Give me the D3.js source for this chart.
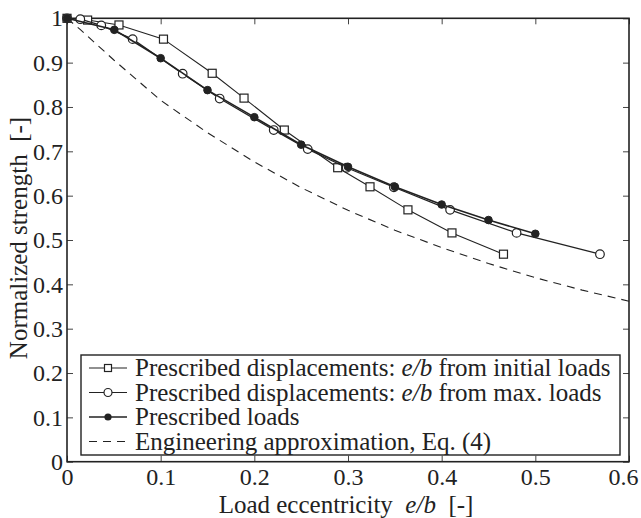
<!DOCTYPE html>
<html>
<head>
<meta charset="utf-8">
<script src="https://cdn.jsdelivr.net/npm/d3@7"></script>
<style>
  html, body { margin: 0; padding: 0; background: #fff; }
  svg { display: block; }
  text { font-family: "Liberation Serif", "Times New Roman", serif; fill: #222; }
</style>
</head>
<body>
<svg id="chart" width="641" height="518"></svg>
<script>
// ---- data ----
const initX = [0, 0.022, 0.0555, 0.103, 0.155, 0.189, 0.232, 0.289, 0.3235, 0.364, 0.411, 0.466];
const initY = [1.0, 0.996, 0.985, 0.953, 0.876, 0.820, 0.748, 0.663, 0.620, 0.568, 0.516, 0.468];

const maxX = [0, 0.0142, 0.0366, 0.0701, 0.1235, 0.163, 0.2207, 0.257, 0.2986, 0.349, 0.409, 0.480, 0.569];
const maxY = [1.0, 0.998, 0.984, 0.953, 0.875, 0.819, 0.748, 0.705, 0.663, 0.619, 0.568, 0.516, 0.468];

const loadX = [0, 0.0505, 0.100, 0.150, 0.200, 0.250, 0.300, 0.350, 0.400, 0.450, 0.500];
const loadY = [1.0, 0.974, 0.910, 0.838, 0.777, 0.715, 0.665, 0.620, 0.580, 0.545, 0.514];

const engX = [0, 0.014, 0.05, 0.1, 0.15, 0.2, 0.25, 0.3, 0.35, 0.4, 0.45, 0.5, 0.55, 0.6];
const engY = [1.0, 0.975, 0.906, 0.815, 0.742, 0.676, 0.618, 0.567, 0.522, 0.483, 0.447, 0.415, 0.387, 0.362];

const xTicks = [0, 0.1, 0.2, 0.3, 0.4, 0.5, 0.6];
const xTickLabels = ["0", "0.1", "0.2", "0.3", "0.4", "0.5", "0.6"];
const yTicks = [0, 0.1, 0.2, 0.3, 0.4, 0.5, 0.6, 0.7, 0.8, 0.9, 1];
const yTickLabels = ["0", "0.1", "0.2", "0.3", "0.4", "0.5", "0.6", "0.7", "0.8", "0.9", "1"];

const legendLabels = [
  ["Prescribed displacements: ", "e/b", " from initial loads"],
  ["Prescribed displacements: ", "e/b", " from max. loads"],
  ["Prescribed loads", "", ""],
  ["Engineering approximation, Eq. (4)", "", ""]
];

// ---- layout ----
const svg = d3.select("#chart");
const L = 67, R = 629, T = 18.3, B = 461.7;
const x = d3.scaleLinear().domain([0, 0.6]).range([L, R]);
const y = d3.scaleLinear().domain([0, 1]).range([B, T]);
const FS = 25, TFS = 24;
const ink = "#222";

const toPts = (xs, ys) => xs.map((v, i) => [v, ys[i]]);
const line = d3.line().x(d => x(d[0])).y(d => y(d[1]));

// axes (ticks inward, on all four sides)
const gB = svg.append("g").attr("transform", `translate(0,${B})`)
  .call(d3.axisBottom(x).tickValues(xTicks).tickFormat((d, i) => xTickLabels[i]).tickSizeInner(-6).tickSizeOuter(0).tickPadding(6));
const gT = svg.append("g").attr("transform", `translate(0,${T})`)
  .call(d3.axisTop(x).tickValues(xTicks).tickFormat("").tickSizeInner(-6).tickSizeOuter(0));
const gL = svg.append("g").attr("transform", `translate(${L},0)`)
  .call(d3.axisLeft(y).tickValues(yTicks).tickFormat((d, i) => yTickLabels[i]).tickSizeInner(-6).tickSizeOuter(0).tickPadding(4));
const gR = svg.append("g").attr("transform", `translate(${R},0)`)
  .call(d3.axisRight(y).tickValues(yTicks).tickFormat("").tickSizeInner(-6).tickSizeOuter(0));
[gB, gT, gL, gR].forEach(g => {
  g.select(".domain").remove();
  g.selectAll(".tick line").attr("stroke", "#444").attr("stroke-width", 1);
  g.selectAll("text").attr("font-size", TFS).attr("font-family", "Liberation Serif").attr("fill", ink);
});
gB.selectAll("text").attr("dy", "0.71em");
// last x label sits slightly left so it stays inside the page
gB.selectAll(".tick text").filter(d => d === 0.6).attr("text-anchor", "end").attr("dx", 9);

// frame
svg.append("rect").attr("x", L).attr("y", T).attr("width", R - L).attr("height", B - T)
  .attr("fill", "none").attr("stroke", ink).attr("stroke-width", 1.6);

// axis titles
const xt = svg.append("text").attr("x", 346).attr("y", 513).attr("text-anchor", "middle")
  .attr("font-size", FS).attr("xml:space", "preserve");
xt.append("tspan").text("Load eccentricity  ");
xt.append("tspan").attr("font-style", "italic").text("e/b");
xt.append("tspan").text("  [-]");

svg.append("text").attr("transform", `translate(27,${(T + B) / 2 - 2}) rotate(-90)`)
  .attr("text-anchor", "middle").attr("font-size", FS).attr("xml:space", "preserve")
  .text("Normalized strength  [-]");

// series
const plot = svg.append("g");
plot.append("path").datum(toPts(engX, engY)).attr("d", line)
  .attr("fill", "none").attr("stroke", ink).attr("stroke-width", 1.1).attr("stroke-dasharray", "8,6");

plot.append("path").datum(toPts(initX, initY)).attr("d", line)
  .attr("fill", "none").attr("stroke", ink).attr("stroke-width", 1.1);
plot.selectAll(".sq").data(toPts(initX, initY)).enter().append("rect")
  .attr("x", d => x(d[0]) - 4).attr("y", d => y(d[1]) - 4).attr("width", 8).attr("height", 8)
  .attr("fill", "#fff").attr("stroke", ink).attr("stroke-width", 1.2);

plot.append("path").datum(toPts(maxX, maxY)).attr("d", line)
  .attr("fill", "none").attr("stroke", ink).attr("stroke-width", 1.2);
plot.selectAll(".oc").data(toPts(maxX, maxY)).enter().append("circle")
  .attr("cx", d => x(d[0])).attr("cy", d => y(d[1])).attr("r", 4.3)
  .attr("fill", "#fff").attr("stroke", ink).attr("stroke-width", 1.2);

plot.append("path").datum(toPts(loadX, loadY)).attr("d", line)
  .attr("fill", "none").attr("stroke", ink).attr("stroke-width", 1.6);
plot.selectAll(".fc").data(toPts(loadX, loadY)).enter().append("circle")
  .attr("cx", d => x(d[0])).attr("cy", d => y(d[1])).attr("r", 3.8)
  .attr("fill", ink).attr("stroke", ink).attr("stroke-width", 1);

// legend
const lg = svg.append("g");
lg.append("rect").attr("x", 81).attr("y", 355).attr("width", 539).attr("height", 100)
  .attr("fill", "#fff").attr("stroke", ink).attr("stroke-width", 1.4);
const rowY = [368, 392.5, 417, 441.5];
legendLabels.forEach((parts, i) => {
  const yy = rowY[i];
  lg.append("line").attr("x1", 89).attr("x2", 127).attr("y1", yy).attr("y2", yy)
    .attr("stroke", ink).attr("stroke-width", i === 2 ? 1.6 : 1.1)
    .attr("stroke-dasharray", i === 3 ? "8,6" : null);
  if (i === 0) lg.append("rect").attr("x", 104.5).attr("y", yy - 3.5).attr("width", 7).attr("height", 7)
    .attr("fill", "#fff").attr("stroke", ink).attr("stroke-width", 1.2);
  if (i === 1) lg.append("circle").attr("cx", 108).attr("cy", yy).attr("r", 4)
    .attr("fill", "#fff").attr("stroke", ink).attr("stroke-width", 1.2);
  if (i === 2) lg.append("circle").attr("cx", 108).attr("cy", yy).attr("r", 3.6).attr("fill", ink);
  const t = lg.append("text").attr("x", 135).attr("y", yy + 8).attr("font-size", FS).attr("xml:space", "preserve");
  t.append("tspan").text(parts[0]);
  if (parts[1]) t.append("tspan").attr("font-style", "italic").text(parts[1]);
  if (parts[2]) t.append("tspan").text(parts[2]);
});
</script>
</body>
</html>
